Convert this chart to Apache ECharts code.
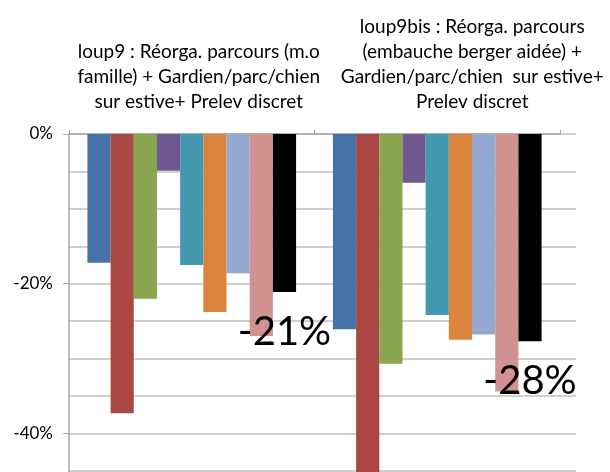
<!DOCTYPE html>
<html>
<head>
<meta charset="utf-8">
<script src="https://cdn.jsdelivr.net/npm/echarts@6/dist/echarts.min.js"></script>
<style>
  html, body { margin: 0; padding: 0; overflow: hidden; background: #fff; }
  #chart { width: 610px; height: 600px; }
</style>
</head>
<body>
<div id="chart"></div>
<script>
// catégories (axe du haut)
const categories = [
  'loup9 : Réorga. parcours (m.o\nfamille) + Gardien/parc/chien\nsur estive+ Prelev discret',
  'loup9bis : Réorga. parcours\n(embauche berger aidée) +\nGardien/parc/chien  sur estive+\nPrelev discret'
]

// 9 séries, valeurs en %
const s1 = [-17.2, -26.1]
const s2 = [-37.3, -47.0]
const s3 = [-22.0, -30.7]
const s4 = [-4.9, -6.5]
const s5 = [-17.5, -24.2]
const s6 = [-23.8, -27.5]
const s7 = [-18.6, -26.8]
const s8 = [-27.0, -34.4]
const total = [-21.1, -27.7]

const seriesData = [s1, s2, s3, s4, s5, s6, s7, s8, total]
const colors = ['#4572A7', '#AA4643', '#89A54E', '#71588F', '#4198AF', '#DB843D', '#93A9CF', '#D19392', '#000000']

const font = 'Lato, "Open Sans", sans-serif'
const gridColor = '#c0c0c0'
const axisColor = '#a6a6a6'

const chart = echarts.init(document.getElementById('chart'))

const option = {
  animation: false,
  backgroundColor: '#fff',
  textStyle: { fontFamily: font },
  grid: [
    { left: 69, right: 50, top: 134, bottom: 17 },
    // prolongement des lignes de grille à droite
    { left: 560, width: 16, top: 134, bottom: 17 }
  ],
  xAxis: [
    {
      type: 'category',
      position: 'top',
      data: categories.map((c, i) => ({
        value: c,
        textStyle: { padding: [0, 0, 0, i === 0 ? 14 : 70] }
      })),
      axisLine: { lineStyle: { color: axisColor, width: 1.5 } },
      axisTick: { show: true, length: 4, lineStyle: { color: axisColor } },
      axisLabel: {
        interval: 0,
        margin: 20,
        fontSize: 19,
        lineHeight: 25,
        color: '#000',
        fontFamily: font
      }
    },
    { gridIndex: 1, type: 'value', show: false, min: 0, max: 1 }
  ],
  yAxis: [
    {
      type: 'value',
      min: -60,
      max: 0,
      interval: 20,
      axisLine: { show: true, lineStyle: { color: axisColor, width: 1.5 } },
      axisTick: { show: true, length: 6, lineStyle: { color: axisColor } },
      axisLabel: {
        margin: 16,
        fontSize: 17,
        color: '#000',
        fontFamily: font,
        formatter: v => v + '%'
      },
      splitLine: { lineStyle: { color: gridColor, width: 1.5 } },
      minorTick: { show: false, splitNumber: 4 },
      minorSplitLine: { show: true, lineStyle: { color: gridColor, width: 1.5 } }
    },
    {
      gridIndex: 1,
      type: 'value',
      min: -60,
      max: 0,
      interval: 20,
      axisLine: { show: false },
      axisTick: { show: false },
      axisLabel: { show: false },
      splitLine: { lineStyle: { color: gridColor, width: 1.5 } },
      minorTick: { show: false, splitNumber: 4 },
      minorSplitLine: { show: true, lineStyle: { color: gridColor, width: 1.5 } }
    }
  ],
  series: seriesData.map((data, i) => ({
    name: 'série ' + (i + 1),
    type: 'bar',
    data,
    barGap: '0%',
    barCategoryGap: '15%',
    itemStyle: { color: colors[i] },
    label: i === seriesData.length - 1 ? {
      show: true,
      position: 'bottom',
      distance: 20,
      fontSize: 40,
      color: '#000',
      fontFamily: font,
      formatter: p => Math.round(p.value) + '%'
    } : { show: false }
  }))
}

chart.setOption(option)
</script>
</body>
</html>
